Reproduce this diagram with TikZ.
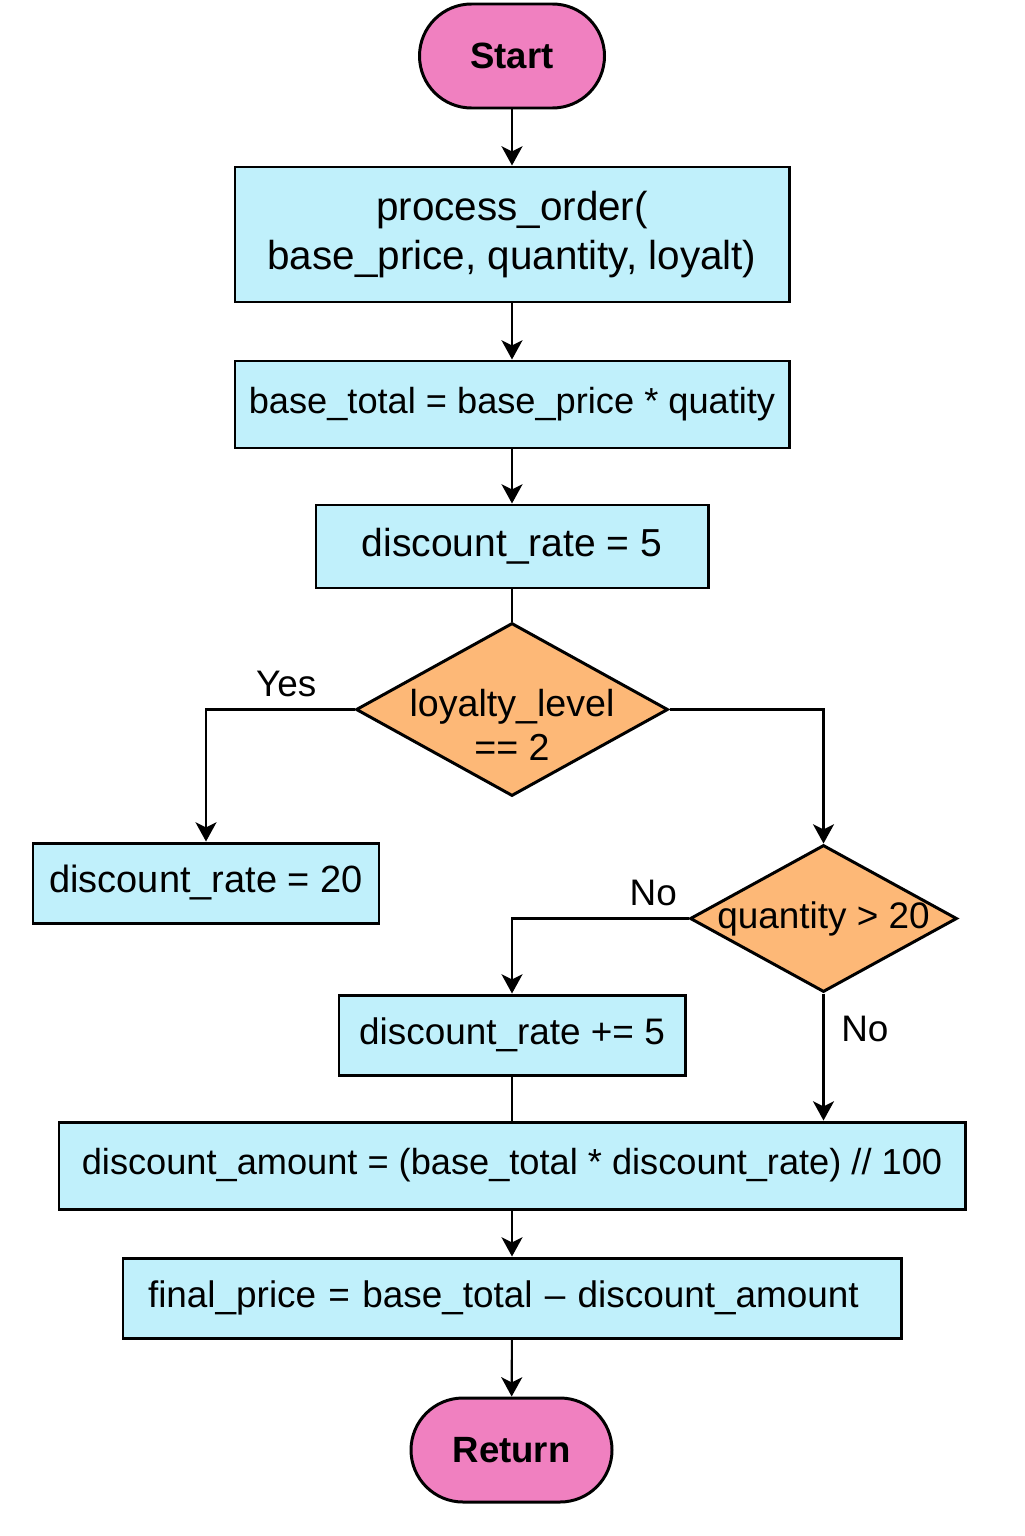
\documentclass[tikz,border=0pt]{standalone}
\usepackage{fontspec}
\setmainfont{Liberation Sans}
\usetikzlibrary{shapes.geometric,arrows.meta}
\definecolor{boxcyan}{RGB}{192,240,251}
\definecolor{termpink}{RGB}{240,128,192}
\definecolor{decorange}{RGB}{253,184,119}

\begin{document}
\begin{tikzpicture}[line width=0.6pt,
    term/.style={draw, line width=0.85pt, fill=termpink, rounded corners=0.52cm, minimum width=1.85cm, minimum height=1.04cm, inner sep=0pt, font=\fontsize{10.4}{13}\selectfont\bfseries},
    proc/.style={draw, line width=0.85pt, fill=boxcyan, inner sep=0pt, font=\fontsize{10.5}{13}\selectfont},
    dec/.style={draw, line width=0.85pt, fill=decorange, diamond, inner sep=0pt},
    declabel/.style={align=center, font=\fontsize{10.7}{12.5}\selectfont},
    flow/.style={-{Stealth[length=5.5pt,width=6pt,inset=1.5pt]}},
    lbl/.style={font=\fontsize{10.5}{12}\selectfont}]
\useasboundingbox (0,0) rectangle (10.24,-15.36);
\node[term] (start) at (5.12,-0.56) {Start};
\node[proc, minimum width=5.54cm, minimum height=1.35cm, align=center, font=\fontsize{11.5}{13.7}\selectfont] (proc) at (5.12,-2.345) {process\_order(\\base\_price, quantity, loyalt)};
\node[proc, minimum width=5.54cm, minimum height=0.87cm, font=\fontsize{10.3}{13}\selectfont] (base) at (5.12,-4.045) {base\_total = base\_price * quatity};
\node[proc, minimum width=3.92cm, minimum height=0.83cm, font=\fontsize{11.1}{13}\selectfont] (rate5) at (5.12,-5.465) {discount\_rate = 5};
\node[dec, minimum width=3.12cm, minimum height=1.73cm, label={[declabel, yshift=-0.15cm]center:loyalty\_level\\== 2}] (loyal) at (5.12,-7.095) {};
\node[proc, minimum width=3.46cm, minimum height=0.80cm, font=\fontsize{10.8}{13}\selectfont] (rate20) at (2.06,-8.83) {discount\_rate = 20};
\node[dec, minimum width=2.67cm, minimum height=1.47cm, label={[declabel, font=\fontsize{10.5}{12.5}\selectfont]center:quantity > 20}] (qty) at (8.235,-9.185) {};
\node[proc, minimum width=3.46cm, minimum height=0.80cm] (inc) at (5.12,-10.35) {discount\_rate += 5};
\node[proc, minimum width=9.06cm, minimum height=0.87cm, font=\fontsize{10.3}{13}\selectfont] (amount) at (5.12,-11.655) {discount\_amount = (base\_total * discount\_rate) // 100};
\node[proc, minimum width=7.78cm, minimum height=0.80cm, text width=7.28cm, inner xsep=0.25cm, align=left] (final) at (5.12,-12.98) {final\_price = base\_total -- discount\_amount};
\node[term, minimum width=2.01cm] (ret) at (5.115,-14.5) {Return};

\draw[flow] (start) -- (proc);
\draw[flow] (proc) -- (base);
\draw[flow] (base) -- (rate5);
\draw (rate5) -- (loyal);
\draw[flow] (loyal.west) -| node[lbl, pos=0.23, above] {Yes} (rate20.north);
\draw[flow] (loyal.east) -| (qty.north);
\draw[flow] (qty.west) -| node[lbl, pos=0.1, above] {No} (inc.north);
\draw[flow] (qty.south) -- node[lbl, pos=0.28, right, xshift=0.05cm] {No} (qty.south |- amount.north);
\draw (inc) -- (amount);
\draw[flow] (amount) -- (final);
\draw[flow] (final) -- (ret);
\end{tikzpicture}
\end{document}
